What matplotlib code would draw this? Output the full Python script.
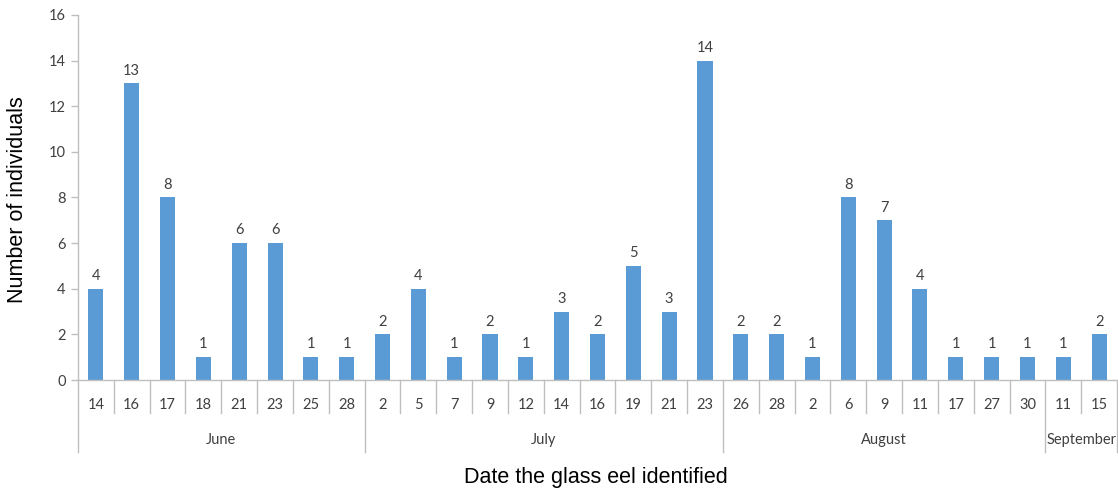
import matplotlib.pyplot as plt

# Glass eel counts per sampling date, grouped by month
months = ["June", "July", "August", "September"]
days = [
    ["14", "16", "17", "18", "21", "23", "25", "28"],
    ["2", "5", "7", "9", "12", "14", "16", "19", "21", "23"],
    ["26", "28", "2", "6", "9", "11", "17", "27", "30"],
    ["11", "15"],
]
counts = [
    [4, 13, 8, 1, 6, 6, 1, 1],
    [2, 4, 1, 2, 1, 3, 2, 5, 3, 14],
    [2, 2, 1, 8, 7, 4, 1, 1, 1],
    [1, 2],
]

day_labels = [d for grp in days for d in grp]
values = [v for grp in counts for v in grp]
x = list(range(len(values)))

W, H = 1118, 491
fig = plt.figure(figsize=(W / 100, H / 100), dpi=100)
ax = fig.add_axes([78 / W, (H - 380) / H, (1117 - 78) / W, 365 / H])

bar_color = "#5B9BD5"
axis_color = "#BFBFBF"
text_color = "#404040"
tick_font = "Lato"

bars = ax.bar(x, values, width=0.42, color=bar_color, zorder=2)
for b, v in zip(bars, values):
    ax.text(b.get_x() + b.get_width() / 2, v + 0.25, str(v), ha="center", va="bottom",
            fontsize=10.5, color=text_color, family=tick_font)

ax.set_xlim(-0.5, len(values) - 0.5)
ax.set_ylim(0, 16)
ax.set_yticks(range(0, 17, 2))

for side in ["top", "right"]:
    ax.spines[side].set_visible(False)
for side in ["left", "bottom"]:
    ax.spines[side].set_color(axis_color)
    ax.spines[side].set_linewidth(1)

ax.tick_params(axis="y", colors=axis_color, length=5, width=1, labelcolor=text_color,
               labelsize=10.5, pad=4)
ax.set_xticks(x, day_labels)
ax.tick_params(axis="x", length=0, labelcolor=text_color, labelsize=10.5, pad=13)
for lab in ax.get_xticklabels() + ax.get_yticklabels():
    lab.set_family(tick_font)

# separators below the axis: short ones between days, long ones between months
trans = ax.get_xaxis_transform()
short_y = -33 / 365
long_y = -72 / 365
bounds = [0]
for grp in days:
    bounds.append(bounds[-1] + len(grp))
group_edges = [b - 0.5 for b in bounds]
for i in range(1, len(values)):
    edge = i - 0.5
    if edge in group_edges:
        continue
    ax.plot([edge, edge], [0, short_y], transform=trans, color=axis_color, lw=1, clip_on=False)
for edge in group_edges:
    ax.plot([edge, edge], [0, long_y], transform=trans, color=axis_color, lw=1, clip_on=False)

for m, lo, hi in zip(months, group_edges[:-1], group_edges[1:]):
    ax.text((lo + hi) / 2, -60 / 365, m, transform=trans, ha="center", va="center",
            fontsize=10.5, color=text_color, family=tick_font)

fig.text(18 / W, 1 - 200 / H, "Number of individuals", rotation=90, ha="center", va="center",
         fontsize=15.5, family="Liberation Sans", color="black")
fig.text(596 / W, 1 - 478 / H, "Date the glass eel identified", ha="center", va="center",
         fontsize=15.5, family="Liberation Sans", color="black")

fig.savefig("out.png", dpi=100)
